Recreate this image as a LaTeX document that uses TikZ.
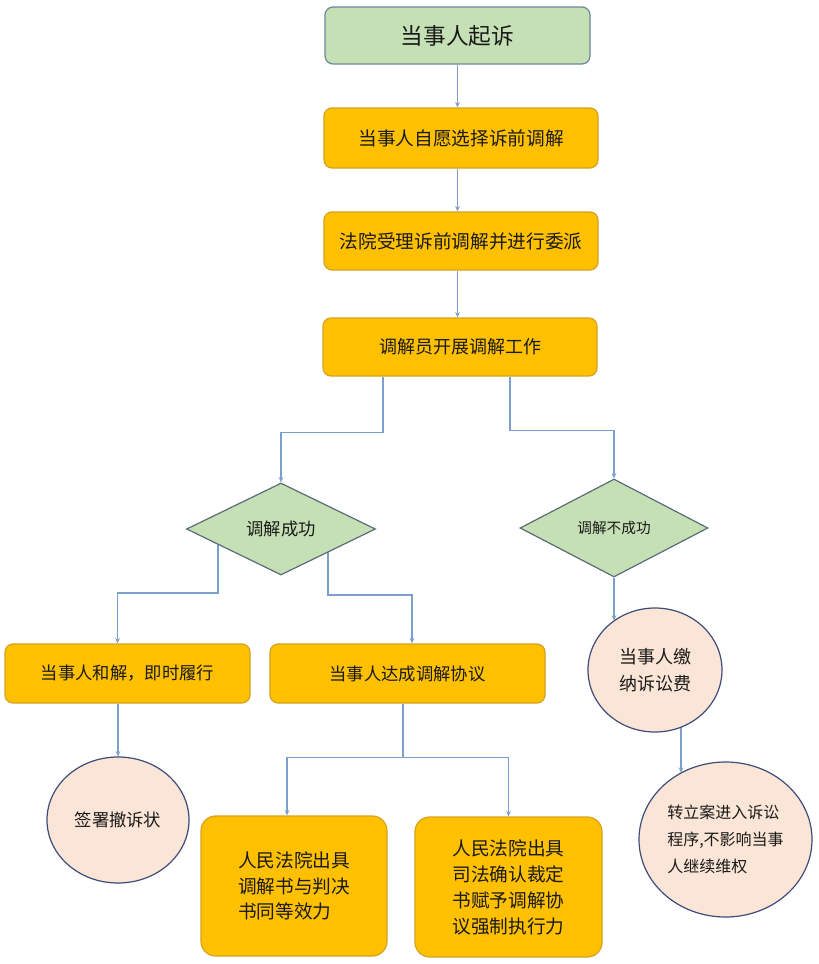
\documentclass[tikz,border=0pt]{standalone}
\usepackage{fontspec}
\newfontfamily\cjk{Noto Sans CJK SC}
\usetikzlibrary{shapes.geometric,arrows.meta,backgrounds}
\definecolor{orfill}{HTML}{FFC000}
\definecolor{ordraw}{HTML}{D6A21E}
\definecolor{grfill}{HTML}{C5E0B4}
\definecolor{grdraw}{HTML}{6A879E}
\definecolor{dmdraw}{HTML}{5B6B78}
\definecolor{elfill}{HTML}{FBE5D6}
\definecolor{eldraw}{HTML}{3E4C7C}
\definecolor{lncol}{HTML}{7C9FCB}
\definecolor{txt}{HTML}{1A1A1A}
\tikzset{
  fs/.style 2 args={font=\cjk\fontsize{#1}{#2}\selectfont},
  obox/.style={rectangle, rounded corners=6pt, fill=orfill, draw=ordraw, line width=0.9pt, inner sep=0pt, text=txt},
  gbox/.style={rectangle, rounded corners=6pt, fill=grfill, draw=grdraw, line width=0.9pt, inner sep=0pt, text=txt},
  dmd/.style={diamond, fill=grfill, draw=dmdraw, line width=0.9pt, inner sep=0pt, text=txt},
  ell/.style={ellipse, fill=elfill, draw=eldraw, line width=0.9pt, inner sep=0pt, text=txt},
  conn/.style={draw=lncol, line width=0.8pt, -{Stealth[length=4pt,width=3.5pt]}}
}
\begin{document}
\begin{tikzpicture}[x=0.75pt,y=-0.75pt]
\useasboundingbox (0,0) rectangle (818,964);

\node[gbox, minimum width=198.75pt, minimum height=42.75pt, fs={17pt}{20pt}] (b1) at (457.5,35.5) {当事人起诉};
\node[obox, minimum width=205.5pt, minimum height=45pt, fs={14pt}{17pt}] (b2) at (461,138) {当事人自愿选择诉前调解};
\node[obox, minimum width=205.5pt, minimum height=43.5pt, fs={14pt}{17pt}] (b3) at (461,241) {法院受理诉前调解并进行委派};
\node[obox, minimum width=205.5pt, minimum height=43.5pt, fs={13.5pt}{17pt}] (b4) at (460,347) {调解员开展调解工作};

\node[dmd, minimum width=141.75pt, minimum height=69pt, fs={13pt}{16pt}] (d1) at (281,529) {调解成功};
\node[dmd, minimum width=141pt, minimum height=73.5pt, fs={11pt}{14pt}] (d2) at (614,528) {调解不成功};

\node[obox, minimum width=183.75pt, minimum height=44.25pt, fs={13pt}{16pt}] (b5) at (127.5,673.5) {当事人和解，即时履行};
\node[obox, minimum width=206.25pt, minimum height=44.25pt, fs={13pt}{16pt}] (b6) at (407.5,673.5) {当事人达成调解协议};

\node[ell, minimum width=106.5pt, minimum height=94.5pt, fs={13pt}{16pt}] (eA) at (118,820) {签署撤诉状};
\node[ell, minimum width=100.5pt, minimum height=93pt, fs={13.5pt}{20pt}, align=left] (eB) at (655,670) {当事人缴\\纳诉讼费};
\node[ell, minimum width=129.75pt, minimum height=116.25pt, fs={12pt}{20pt}, align=left] (eC) at (725.5,839.5) {转立案进入诉讼\\程序,不影响当事\\人继续维权};

\node[obox, rounded corners=11pt, minimum width=139.5pt, minimum height=105pt, fs={14pt}{19pt}, align=left] (b7) at (294,886) {人民法院出具\\调解书与判决\\书同等效力};
\node[obox, rounded corners=11pt, minimum width=140.25pt, minimum height=105pt, fs={14pt}{19.5pt}, align=left] (b8) at (508.5,887) {人民法院出具\\司法确认裁定\\书赋予调解协\\议强制执行力};

\coordinate (s1) at ([shift={(-63,0)}]d1.center);
\coordinate (s2) at ([shift={(47,0)}]d1.center);
\coordinate (s3) at ([shift={(26,0)}]eB.center);
\coordinate (s4) at ([shift={(-4.5,0)}]b6.south);
\coordinate (split) at ([shift={(-4.5,54)}]b6.south);

\begin{scope}[on background layer]
\fill[white] (0,0) rectangle (818,964);
\draw[conn] (b1.south) -- (b1.south |- b2.north);
\draw[conn] (b2.south -| b1.south) -- (b3.north -| b1.south);
\draw[conn] (b3.south -| b1.south) -- (b4.north -| b1.south);
\draw[conn] ([shift={(-77,0)}]b4.south) -- ++(0,56) -| (d1.north);
\draw[conn] ([shift={(50,0)}]b4.south) -- ++(0,54) -| (d2.north);
\draw[conn] (s1) -- ++(0,64) -| ([shift={(-10,0)}]b5.north);
\draw[conn] (s2) -- ++(0,66) -| ([shift={(4.5,0)}]b6.north);
\draw[conn] (d2.south) -- (d2.south |- eB.130);
\draw[conn] (s3) -- (s3 |- eC.124);
\draw[conn] (eA.north |- b5.south) -- (eA.north);
\draw[conn] (s4) -- (split) -| ([shift={(-7,0)}]b7.north);
\draw[conn] (s4) -- (split) -| (b8.north);
\end{scope}
\end{tikzpicture}
\end{document}
